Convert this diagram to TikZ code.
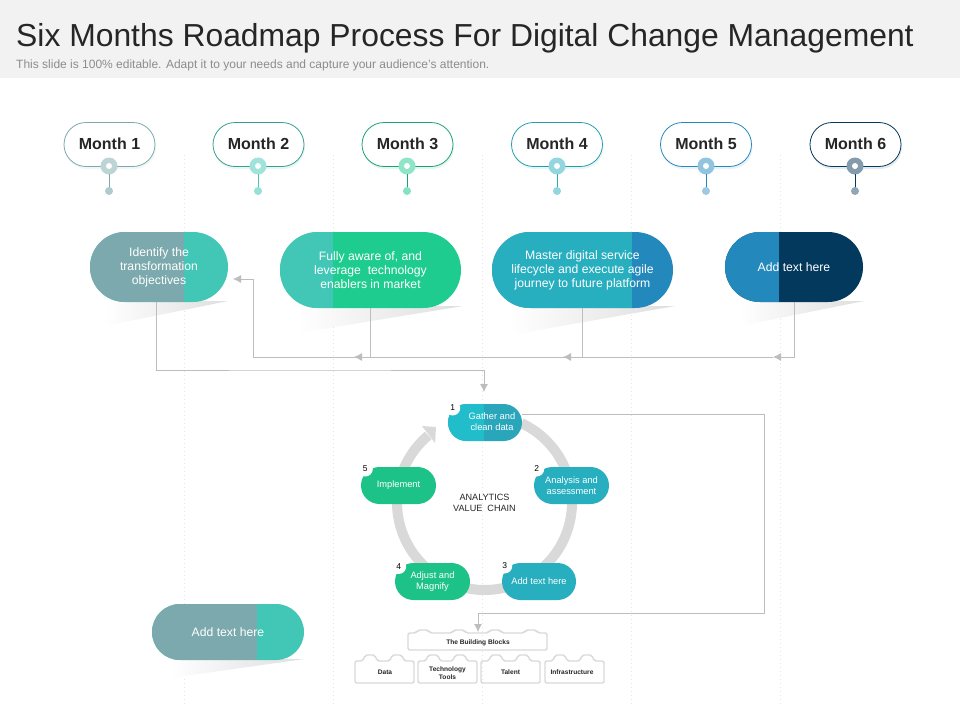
\documentclass[tikz,border=0pt]{standalone}
\usepackage{fontspec}
\setmainfont{Liberation Sans}
\usetikzlibrary{arrows.meta,shadows,calc}
\definecolor{cSlate}{HTML}{7BA9AD}
\definecolor{cMint}{HTML}{42C7B6}
\definecolor{cGreen}{HTML}{1FCC8F}
\definecolor{cTeal}{HTML}{27AEBF}
\definecolor{cBlue}{HTML}{2389BC}
\definecolor{cNavy}{HTML}{04395E}
\definecolor{cConn}{HTML}{BDBDBD}
\definecolor{cLego}{HTML}{D9D9D9}
\definecolor{cRing}{HTML}{D9D9D9}
\definecolor{cOneL}{HTML}{22BDCB}
\definecolor{cOneR}{HTML}{2AA6BA}
\tikzset{
  x=1pt,y=-1pt,
  pillshape/.style 2 args={minimum width=#1pt,minimum height=#2pt,inner sep=0pt,rounded corners=#2/2*1pt,align=center,text=white},
  twotone/.style n args={3}{fill=#3,path picture={\fill[#2,sharp corners] (path picture bounding box.south west) rectangle ([xshift=#1pt]path picture bounding box.north west);}},
  bigtext/.style={font=\fontsize{12.2}{14}\selectfont},
  smalltext/.style={font=\fontsize{9.3}{11}\selectfont},
  monthpill/.style={draw=#1,fill=white,line width=.8pt,minimum width=91pt,minimum height=44pt,inner sep=0pt,rounded corners=22pt,text=black!85,font=\fontsize{16}{16}\selectfont\bfseries,drop shadow={opacity=.10,shadow xshift=1pt,shadow yshift=-2.5pt,fill=#1}},
  conn/.style={draw=cConn,line width=.9pt},
  connarrow/.style={conn,-{Latex[length=8pt,width=8pt,fill=cConn]}},
  guide/.style={draw=black!10,line width=1pt,dash pattern=on 1pt off 3pt},
  fadeshadow/.style={left color=white,right color=black!13,draw=none,shading angle=90},
  badge/.style={circle,fill=white,inner sep=0pt,minimum size=15pt,font=\fontsize{8.5}{8.5}\selectfont,text=black},
  lego/.style={draw=cLego,line width=1.4pt,rounded corners=2pt},
  legotext/.style={font=\fontsize{6.6}{8}\selectfont\bfseries,text=black!85,align=center,inner sep=0pt},
}
\newcommand{\monthmark}[4]{% x, ring colour, line colour, dot colour
  \fill[#2] (#1,166) circle[radius=8.5];
  \fill[white] (#1,166) circle[radius=3];
  \draw[#3,line width=.9pt] (#1,174) -- (#1,190);
  \fill[#4] (#1,191) circle[radius=4];
}
\newcommand{\legosmall}[1]{%
  \draw[lego] (#1,683) -- (#1,661) -- ({#1+8},661) -- ({#1+10},655) -- ({#1+20},655) -- ({#1+22},661)
    -- ({#1+35},661) -- ({#1+37},655) -- ({#1+47},655) -- ({#1+49},661) -- ({#1+59},661) -- ({#1+59},683) -- cycle;
}
\newcommand{\mlabel}[1]{\raisebox{2.2pt}{#1}}
\begin{document}
\begin{tikzpicture}
\useasboundingbox (0,0) rectangle (960,720);
\fill[white] (0,0) rectangle (960,720);
\fill[black!5] (0,0) rectangle (960,78);
\node[anchor=base west,inner sep=0pt,text=black!85,font=\fontsize{31.85}{33}\selectfont] (title) at (16,46) {Six Months Roadmap Process For Digital Change Management};
\node[anchor=base west,inner sep=0pt,text=black!45,font=\fontsize{12}{12}\selectfont] (subtitle) at (16,68) {This slide is 100\% editable. Adapt it to your needs and capture your audience's attention.};

% guides
\foreach \gx in {184,333,482,631,780} \draw[guide] (\gx,155) -- (\gx,705);

% months
\node[monthpill=cSlate] (m1) at (109.5,144.5) {\mlabel{Month 1}};
\node[monthpill=cMint!80!black] (m2) at (258.5,144.5) {\mlabel{Month 2}};
\node[monthpill=cGreen!80!black] (m3) at (407.5,144.5) {\mlabel{Month 3}};
\node[monthpill=cTeal!90!black] (m4) at (557,144.5) {\mlabel{Month 4}};
\node[monthpill=cBlue] (m5) at (706,144.5) {\mlabel{Month 5}};
\node[monthpill=cNavy] (m6) at (855.5,144.5) {\mlabel{Month 6}};
\monthmark{109}{cSlate!50}{cSlate}{cSlate!60}
\monthmark{258}{cMint!50}{cMint}{cMint!55}
\monthmark{407}{cGreen!50}{cGreen!80!black}{cGreen!55}
\monthmark{557}{cTeal!50}{cTeal}{cTeal!50}
\monthmark{706}{cBlue!50}{cBlue}{cBlue!45}
\monthmark{855}{cNavy!50}{cNavy}{cNavy!45}

% floor shadows
\shade[fadeshadow] (228,301) -- (105,301) -- (105,326) -- cycle;
\shade[fadeshadow] (463,306) -- (298,306) -- (298,333) -- cycle;
\shade[fadeshadow] (675,306) -- (510,306) -- (510,335) -- cycle;
\shade[fadeshadow] (864,301) -- (740,301) -- (740,326) -- cycle;
\shade[fadeshadow] (304,659) -- (170,659) -- (170,678) -- cycle;

% big pills
\node[pillshape={138}{70},twotone={94}{cSlate}{cMint},bigtext] (p1) at (159,267) {Identify the\\transformation\\objectives};
\node[pillshape={181}{76},twotone={53}{cMint}{cGreen},bigtext] (p2) at (370.5,270) {Fully aware of, and\\leverage\ \ technology\\enablers in market};
\node[pillshape={181}{76},twotone={140}{cTeal}{cBlue},bigtext] (p3) at (582.5,270) {Master digital service\\lifecycle and execute agile\\journey to future platform};
\node[pillshape={138}{70},twotone={54}{cBlue}{cNavy},bigtext] (p4) at (794,267) {Add text here};
\node[pillshape={152}{56},twotone={105}{cSlate}{cMint},bigtext] (p5) at (228,632) {Add text here};

% connectors
\coordinate (j0) at (253,357);
\coordinate (a4) at (773,357);
\coordinate (a3) at (563,357);
\coordinate (a2) at (354,357);
\coordinate (t1) at (233,279);
\coordinate (ringtop) at (484,392);
\coordinate (bbtop) at (478,632);
\coordinate (r1) at (764,414);
\coordinate (r2) at (764,613);
\draw[connarrow] (p4.south) |- (a4);
\draw[connarrow] (p3.south) |- (a3);
\draw[connarrow] (p2.south) |- (a2);
\draw[conn] (a4) -- (j0);
\draw[connarrow] (j0) |- (t1);
\draw[connarrow] ([xshift=-3pt]p1.south) |- (300,370) -| (ringtop);

% ring
\draw[draw=cRing,line width=10pt] plot[domain=-65:230,samples=80,smooth] ({484.5+87.5*cos(\x)},{502.5+87.5*sin(\x)});
\fill[cRing] (436,427) -- (422,426) -- (435,443) -- cycle;

% chain nodes
\node[pillshape={74}{37},twotone={36}{cOneL}{cOneR},smalltext] (c1) at (485,422.5) {};
\node[smalltext,text=white,align=center,inner sep=0pt] (c1t) at (492,421.5) {Gather and\\clean data};
\node[pillshape={75}{37},fill=cTeal,smalltext] (c2) at (571.5,485.5) {Analysis and\\assessment};
\node[pillshape={74}{37},fill=cTeal,smalltext] (c3) at (539,581.5) {Add text here};
\node[pillshape={75}{37},fill=cGreen!95!black,smalltext] (c4) at (432.5,581.5) {Adjust and\\Magnify};
\node[pillshape={75}{37},fill=cGreen!95!black,smalltext] (c5) at (398.5,485.5) {Implement};
\node[badge] (b1) at (452.7,408) {1};
\node[badge] (b2) at (536.7,469) {2};
\node[badge] (b3) at (504.7,566) {3};
\node[badge] (b4) at (398.7,566.5) {4};
\node[badge] (b5) at (365.3,469) {5};
\node[align=center,inner sep=0pt,text=black!85,font=\fontsize{9.1}{11}\selectfont] (vc) at (484.5,502.5) {ANALYTICS\\VALUE\ \ CHAIN};

% connector to building blocks
\draw[connarrow] (c1.east |- r1) -- (r1) -- (r2) -| (bbtop);

% building blocks
\draw[lego] (408,650) -- (408,633) -- (416,633) -- (418,630) -- (428,630) -- (430,633) -- (452,633) -- (454,630) -- (464,630) -- (466,633)
  -- (488,633) -- (490,630) -- (500,630) -- (502,633) -- (524,633) -- (526,630) -- (536,630) -- (538,633) -- (547,633) -- (547,650) -- cycle;
\legosmall{355}
\legosmall{418}
\legosmall{481}
\legosmall{545}
\node[legotext] (bb) at (478,642.5) {The Building Blocks};
\node[legotext] (l1) at (385,672.5) {Data};
\node[legotext] (l2) at (447.5,673) {Technology\\Tools};
\node[legotext] (l3) at (510.5,672.5) {Talent};
\node[legotext] (l4) at (572,672.5) {Infrastructure};
\end{tikzpicture}
\end{document}
